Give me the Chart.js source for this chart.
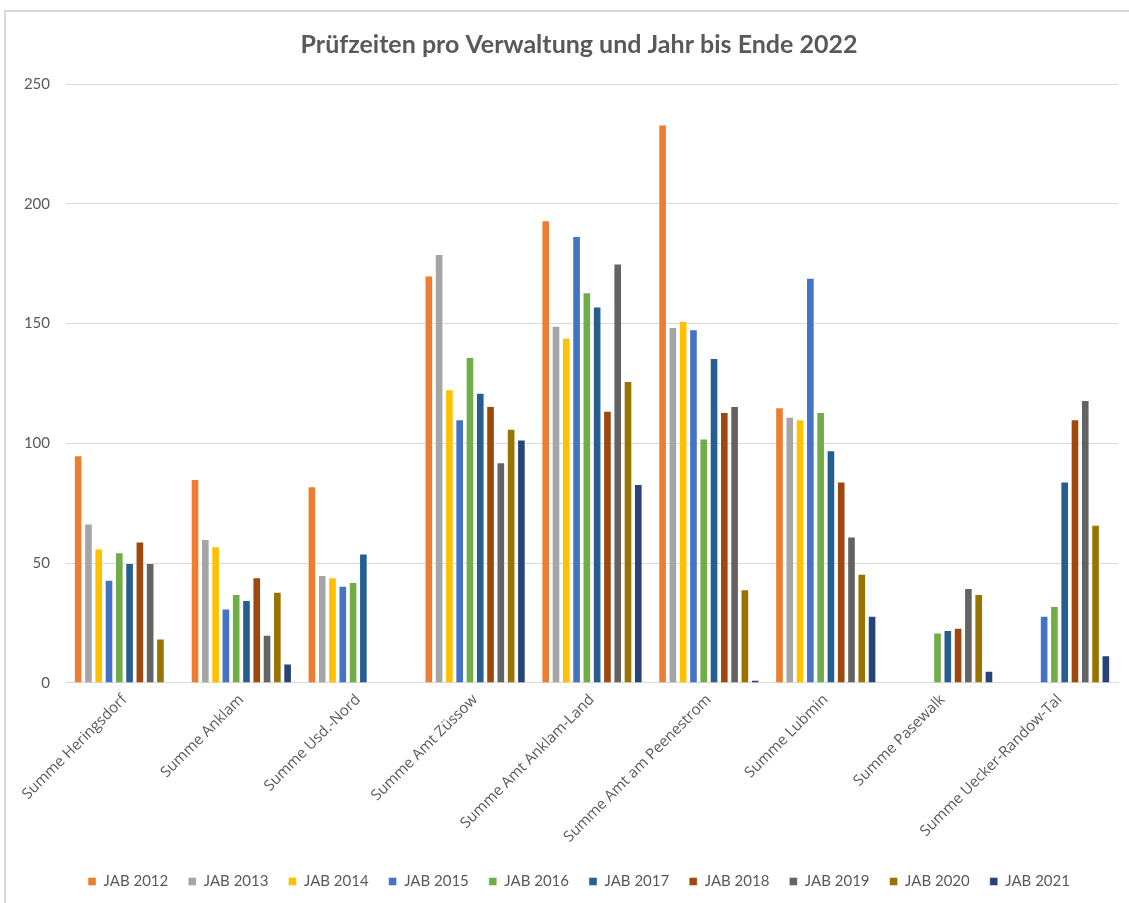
<!DOCTYPE html>
<html>
<head>
<meta charset="utf-8">
<script src="https://cdn.jsdelivr.net/npm/chart.js@4/dist/chart.umd.min.js"></script>
<style>
  html, body { margin: 0; padding: 0; background: #ffffff; overflow: hidden; }
  #frame { position: absolute; left: 4px; top: 10px; width: 1140px; height: 900px;
           border-left: 2px solid #d9d9d9; border-top: 2px solid #d9d9d9; background: #fff; }
  #wrap { position: absolute; left: 6px; top: 12px; width: 1146px; height: 891px; }
</style>
</head>
<body>
<div id="frame"></div>
<div id="wrap"><canvas id="c"></canvas></div>
<script>
const categories = ["Summe Heringsdorf", "Summe Anklam", "Summe Usd.-Nord", "Summe Amt Züssow",
  "Summe Amt Anklam-Land", "Summe Amt am Peenestrom", "Summe Lubmin", "Summe Pasewalk",
  "Summe Uecker-Randow-Tal"];

const seriesNames = ["JAB 2012", "JAB 2013", "JAB 2014", "JAB 2015", "JAB 2016",
  "JAB 2017", "JAB 2018", "JAB 2019", "JAB 2020", "JAB 2021"];

const jab2012 = [95, 85, 82, 170, 193, 233, 115, null, null];
const jab2013 = [66.5, 60, 45, 179, 149, 148.5, 111, null, null];
const jab2014 = [56, 57, 44, 122.5, 144, 151, 110, null, null];
const jab2015 = [43, 31, 40.5, 110, 186.5, 147.5, 169, null, 28];
const jab2016 = [54.5, 37, 42, 136, 163, 102, 113, 21, 32];
const jab2017 = [50, 34.5, 54, 121, 157, 135.5, 97, 22, 84];
const jab2018 = [59, 44, null, 115.5, 113.5, 113, 84, 23, 110];
const jab2019 = [50, 20, null, 92, 175, 115.5, 61, 39.5, 118];
const jab2020 = [18.5, 38, null, 106, 126, 39, 45.5, 37, 66];
const jab2021 = [null, 8, null, 101.5, 83, 1.2, 28, 5, 11.5];

const seriesValues = [jab2012, jab2013, jab2014, jab2015, jab2016, jab2017, jab2018, jab2019, jab2020, jab2021];
const seriesColors = ["#ED7D31", "#A5A5A5", "#FFC000", "#4472C4", "#70AD47",
  "#255E91", "#9E480E", "#636363", "#997300", "#264478"];

const yTicks = [0, 50, 100, 150, 200, 250];

const datasets = seriesNames.map((name, i) => ({
  label: name,
  data: seriesValues[i],
  backgroundColor: seriesColors[i],
  borderColor: "rgba(255,255,255,0.55)",
  borderWidth: 0.8,
  borderSkipped: "bottom",
  barPercentage: 0.8,
  categoryPercentage: 0.88
}));

const txt = "#595959";

new Chart(document.getElementById("c"), {
  type: "bar",
  data: { labels: categories, datasets },
  options: {
    responsive: true,
    maintainAspectRatio: false,
    animation: false,
    devicePixelRatio: 1,
    layout: { padding: { left: 0, right: 0, top: 0, bottom: 4 } },
    plugins: {
      title: {
        display: true,
        text: "Prüfzeiten pro Verwaltung und Jahr bis Ende 2022",
        color: txt,
        font: { family: "Lato", size: 25, weight: "bold" },
        padding: { top: 18, bottom: 24 }
      },
      legend: {
        position: "bottom",
        labels: {
          color: txt,
          font: { family: "Lato", size: 15 },
          boxWidth: 8, boxHeight: 8,
          padding: 20
        }
      },
      tooltip: { enabled: false }
    },
    scales: {
      x: {
        grid: { display: false, drawTicks: false },
        border: { display: true, color: "#d9d9d9", width: 1 },
        ticks: {
          color: txt,
          font: { family: "Open Sans", size: 15 },
          minRotation: 45, maxRotation: 45,
          padding: 8,
          autoSkip: false
        }
      },
      y: {
        min: yTicks[0], max: yTicks[yTicks.length - 1],
        afterBuildTicks: (ax) => { ax.ticks = yTicks.map(v => ({ value: v })); },
        afterFit: (ax) => { ax.width = 60; },
        grid: { color: "#d9d9d9", lineWidth: 1, drawTicks: false },
        border: { display: false },
        ticks: {
          color: txt,
          font: { family: "Lato", size: 15 },
          padding: 16
        }
      },
      yRightSpace: {
        type: "linear",
        position: "right",
        display: true,
        grid: { display: false, drawTicks: false },
        border: { display: false },
        ticks: { display: false },
        afterFit: (ax) => { ax.width = 34; }
      }
    }
  }
});
</script>
</body>
</html>
